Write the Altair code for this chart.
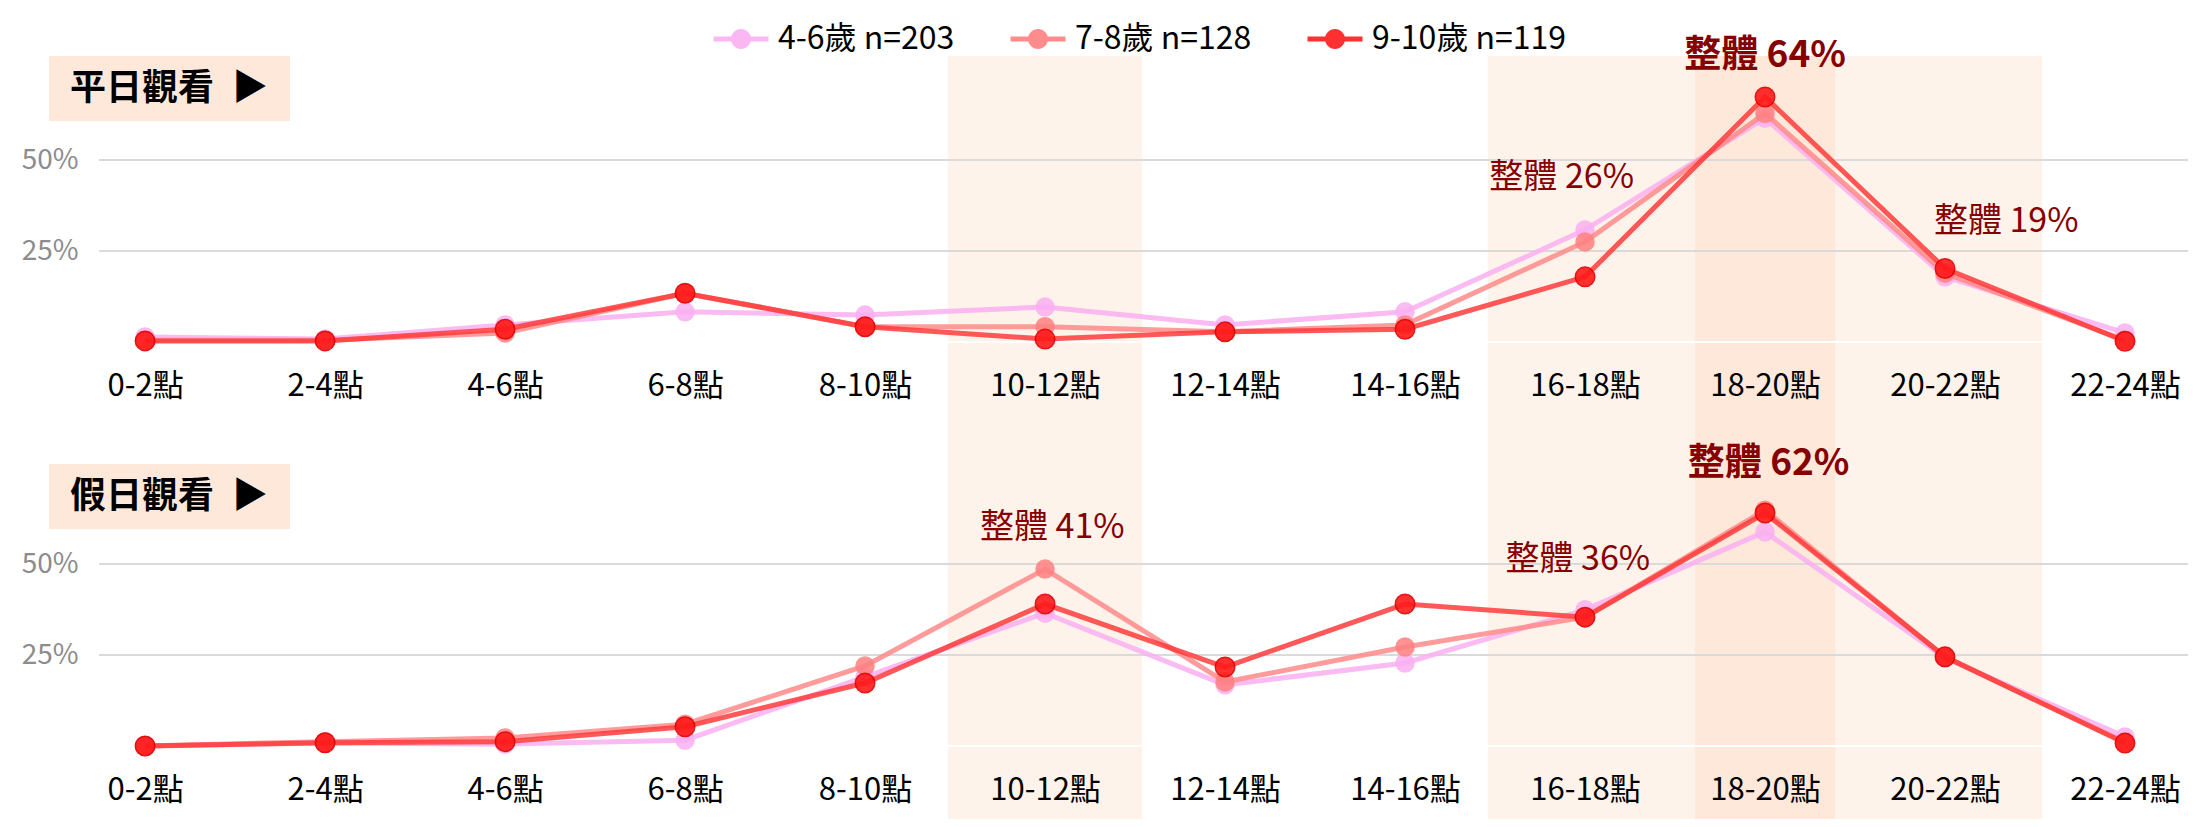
import json
import altair as alt
import pandas as pd

FONT = "Noto Sans CJK TC"

# ---------------- data ----------------
categories = ["0-2點", "2-4點", "4-6點", "6-8點", "8-10點", "10-12點",
              "12-14點", "14-16點", "16-18點", "18-20點", "20-22點", "22-24點"]
groups = ["4-6歲 n=203", "7-8歲 n=128", "9-10歲 n=119"]
line_colors = ["#F9AFF1", "#FF8A8A", "#FF3B3B"]
point_colors = ["#F9AFF1", "#FF8080", "#FF1A1A"]

weekday_46 = [1.4, 0.8, 4.7, 8.3, 7.4, 9.6, 4.7, 8.3, 30.8, 61.5, 17.9, 2.5]
weekday_78 = [0.5, 0.5, 2.5, 13.4, 4.2, 4.2, 2.8, 4.7, 27.5, 62.8, 18.9, 0.5]
weekday_910 = [0.3, 0.3, 3.5, 13.4, 4.2, 0.8, 2.8, 3.5, 17.9, 67.3, 20.2, 0.2]

weekend_46 = [0.0, 0.8, 0.5, 1.6, 19.0, 36.5, 16.8, 22.8, 37.4, 58.8, 24.2, 2.5]
weekend_78 = [0.0, 1.2, 2.2, 6.0, 22.0, 48.6, 17.6, 27.2, 35.4, 64.8, 24.5, 1.0]
weekend_910 = [0.0, 0.9, 1.2, 5.3, 17.3, 39.0, 21.7, 39.0, 35.4, 64.0, 24.5, 0.8]

highlight_light = ["10-12點", "16-18點", "18-20點", "20-22點"]
highlight_dark = ["18-20點"]
gridlines = [25, 50]

weekday_title = "平日觀看\u2002▶"
weekend_title = "假日觀看\u2002▶"

weekday_notes_text = ["整體 26%", "整體 64%", "整體 19%"]
weekday_notes_x = [7.87, 9.0, 10.34]
weekday_notes_y = [45.0, 78.6, 33.0]
weekday_notes_bold = [False, True, False]

weekend_notes_text = ["整體 41%", "整體 36%", "整體 62%"]
weekend_notes_x = [5.04, 7.96, 9.02]
weekend_notes_y = [59.9, 51.1, 77.5]
weekend_notes_bold = [False, False, True]

# ---------------- layout ----------------
W = 2089
XMIN, XMAX = -0.256, 11.35
LIGHT = "#FEF3EA"
DARK = "#FDE8DA"
NOTE = "#860000"

LEGEND_PATH = ("M-2.75,-0.25H2.75V0.25H-2.75Z "
               "M-1,0A1,1 0 1,1 1,0A1,1 0 1,1 -1,0Z")

label_expr = json.dumps(categories, ensure_ascii=False) + "[datum.value]"

legend = alt.Legend(
    orient="none", legendX=626, legendY=-33, direction="horizontal",
    title=None, symbolType=LEGEND_PATH, symbolSize=400, symbolStrokeWidth=0,
    symbolOpacity=0.9, labelFont=FONT, labelFontSize=32, labelColor="#000000",
    labelOffset=21, columnPadding=55, padding=0, labelLimit=1000,
)


def panel(title, series, notes, ymin, ymax, height, axis_offset):
    rows = []
    for g, vals in zip(groups, series):
        for i, (c, v) in enumerate(zip(categories, vals)):
            rows.append({"idx": i, "cat": c, "group": g, "value": v})
    df = pd.DataFrame(rows)

    x_scale = alt.Scale(domain=[XMIN, XMAX], nice=False, zero=False)
    y_scale = alt.Scale(domain=[ymin, ymax], nice=False, zero=False)
    x_axis = alt.Axis(values=list(range(len(categories))), labelExpr=label_expr,
                      title=None, ticks=False, tickSize=0, domain=False, grid=False,
                      labelFont=FONT, labelFontSize=31, labelColor="#000000",
                      labelPadding=29, offset=axis_offset, zindex=1,
                      labelOverlap=False)
    y_axis = alt.Axis(values=gridlines, labelExpr="datum.value + '%'", title=None,
                      ticks=False, domain=False, grid=False, labelFont=FONT,
                      labelFontSize=28, labelColor="#8C8C8C", labelPadding=21)

    light_idx = [categories.index(c) for c in highlight_light]
    dark_idx = [categories.index(c) for c in highlight_dark]
    light_df = pd.DataFrame({"x1": [i - 0.54 for i in light_idx],
                             "x2": [i + 0.54 for i in light_idx]})
    dark_df = pd.DataFrame({"x1": [i - 0.39 for i in dark_idx],
                            "x2": [i + 0.39 for i in dark_idx]})

    layers = []
    layers.append(alt.Chart(light_df).mark_rect(color=LIGHT).encode(
        x=alt.X("x1:Q", scale=x_scale, axis=x_axis), x2="x2:Q",
        y=alt.value(0), y2=alt.value(height)))
    layers.append(alt.Chart(dark_df).mark_rect(color=DARK).encode(
        x=alt.X("x1:Q", scale=x_scale, axis=x_axis), x2="x2:Q",
        y=alt.value(0), y2=alt.value(height)))
    layers.append(alt.Chart(pd.DataFrame({"g": gridlines})).mark_rule(
        color="#DADADA", strokeWidth=2).encode(
        y=alt.Y("g:Q", scale=y_scale, axis=y_axis)))
    layers.append(alt.Chart(pd.DataFrame({"z": [0]})).mark_rule(
        color="#FFFFFF", strokeWidth=2).encode(
        y=alt.Y("z:Q", scale=y_scale, axis=y_axis)))

    tdf = pd.DataFrame({"t": [title]})
    layers.append(alt.Chart(tdf).mark_rect(color=DARK).encode(
        x=alt.value(-50), x2=alt.value(191), y=alt.value(0), y2=alt.value(65)))
    layers.append(alt.Chart(tdf).mark_text(
        font=FONT, fontSize=36, fontWeight="bold", color="#000000",
        align="left", baseline="middle").encode(
        x=alt.value(-29), y=alt.value(33), text="t:N"))

    for g, lc in zip(groups, line_colors):
        sub = df[df.group == g]
        layers.append(alt.Chart(sub).mark_line(
            color=lc, strokeWidth=5, opacity=0.85).encode(
            x=alt.X("idx:Q", scale=x_scale, axis=x_axis),
            y=alt.Y("value:Q", scale=y_scale, axis=y_axis)))
        pt_kwargs = dict(filled=True, size=380, opacity=0.85)
        if g == groups[-1]:
            pt_kwargs.update(stroke="#E00000", strokeWidth=1.5, opacity=0.9)
        layers.append(alt.Chart(sub).mark_point(**pt_kwargs).encode(
            x=alt.X("idx:Q", scale=x_scale, axis=x_axis),
            y=alt.Y("value:Q", scale=y_scale, axis=y_axis),
            color=alt.Color("group:N", scale=alt.Scale(domain=groups, range=point_colors),
                            legend=legend)))

    texts, xs, ys, bolds = notes
    ndf = pd.DataFrame({"text": texts, "x": xs, "y": ys, "bold": bolds})
    for is_bold, size in [(False, 34), (True, 37)]:
        layers.append(alt.Chart(ndf[ndf.bold == is_bold]).mark_text(
            font=FONT, fontSize=size, fontWeight="bold" if is_bold else "normal",
            color=NOTE, align="center", baseline="middle").encode(
            x=alt.X("x:Q", scale=x_scale, axis=x_axis),
            y=alt.Y("y:Q", scale=y_scale, axis=y_axis),
            text="text:N"))

    return alt.layer(*layers).properties(width=W, height=height)


PX = 3.64  # pixels per percent
top = panel(weekday_title, [weekday_46, weekday_78, weekday_910],
            (weekday_notes_text, weekday_notes_x, weekday_notes_y, weekday_notes_bold),
            -122 / PX, 286 / PX, 408, -122)
bottom = panel(weekend_title, [weekend_46, weekend_78, weekend_910],
               (weekend_notes_text, weekend_notes_x, weekend_notes_y, weekend_notes_bold),
               -73 / PX, 282 / PX, 355, -73)

chart = alt.vconcat(top, bottom, spacing=0).properties(
    bounds="flush",
    padding={"left": 13, "top": 15, "right": 0, "bottom": 0},
).resolve_scale(color="shared").resolve_legend(color="shared").configure(
    font=FONT
).configure_view(
    strokeWidth=0, stroke="transparent"
)

chart.save("out.html", embed_options={"renderer": "svg", "actions": False})
